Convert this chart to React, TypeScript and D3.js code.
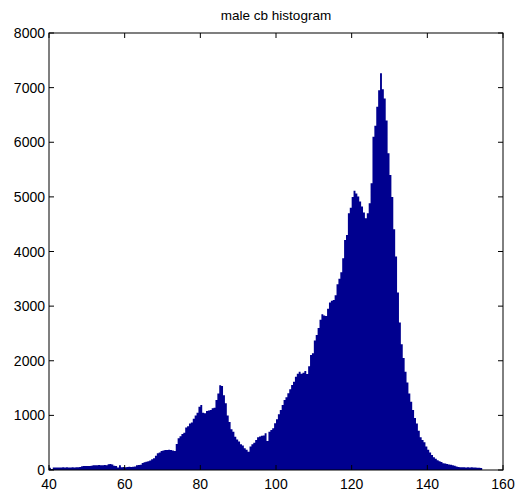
import React from "react";
import * as d3 from "d3";

const title = "male cb histogram";
const binStart = 40;
const binWidth = 0.5;
const counts: number[] = [
  40, 20, 45, 45, 48, 45, 48, 50, 48, 50,
  45, 48, 50, 48, 50, 52, 55, 70, 72, 75,
  72, 75, 78, 85, 88, 85, 90, 88, 85, 90,
  88, 105, 110, 100, 80, 75, 45, 85, 50, 55,
  52, 55, 58, 55, 60, 62, 85, 90, 95, 130,
  140, 150, 160, 175, 195, 215, 260, 305, 320, 350,
  355, 365, 368, 370, 365, 355, 350, 476, 580, 620,
  660, 680, 780, 800, 850, 870, 940, 1000, 1050, 1160,
  1190, 1050, 1040, 1080, 1090, 1100, 1130, 1140, 1280, 1400,
  1550, 1540, 1370, 1220, 1000, 880, 745, 700, 610, 560,
  520, 470, 450, 400, 370, 336, 430, 470, 500, 550,
  600, 615, 629, 630, 672, 530, 702, 730, 763, 855,
  930, 1020, 1100, 1190, 1282, 1330, 1404, 1480, 1557, 1617,
  1709, 1760, 1800, 1760, 1780, 1813, 1758, 1900, 2106, 2137,
  2369, 2473, 2600, 2750, 2851, 2830, 2820, 2950, 3065, 3100,
  3114, 3200, 3400, 3500, 3620, 3877, 4212, 4304, 4701, 4800,
  5000, 5110, 5060, 5005, 4914, 4823, 4713, 4610, 4700, 4884,
  5250, 6100, 6300, 6650, 6950, 7265, 6972, 6800, 6400, 5800,
  5400, 5000, 4408, 3907, 3250, 2700, 2300, 2050, 1800, 1600,
  1400, 1250, 1100, 950, 850, 720, 599, 549, 510, 430,
  370, 320, 275, 232, 205, 180, 159, 145, 125, 120,
  110, 100, 95, 85, 79, 65, 55, 52, 50, 50,
  48, 50, 48, 50, 45, 45, 42, 40, 35,
];
const xTicks = [40, 60, 80, 100, 120, 140, 160];
const yTicks = [0, 1000, 2000, 3000, 4000, 5000, 6000, 7000, 8000];

const W = 531;
const H = 492;
const left = 49;
const right = 503;
const top = 33;
const bottom = 470;
const tickLen = 5;
const font = "'Liberation Sans', Arial, sans-serif";

export default function App() {
  const x = d3.scaleLinear().domain([40, 160]).range([left, right]);
  const y = d3.scaleLinear().domain([0, 8000]).range([bottom, top]);
  const pts: [number, number][] = counts.map((c, i) => [binStart + i * binWidth, c]);
  pts.push([binStart + counts.length * binWidth, counts[counts.length - 1]]);
  const area = d3
    .area<[number, number]>()
    .x((d) => x(d[0]))
    .y0(y(0))
    .y1((d) => y(d[1]))
    .curve(d3.curveStepAfter);

  return (
    <svg
      width={W}
      height={H}
      style={{ position: "absolute", left: 0, top: 0, background: "#fff" }}
    >
      <rect x={0} y={0} width={W} height={H} fill="#fff" />
      <path d={area(pts) || ""} fill="#00008F" />
      <rect
        x={left}
        y={top}
        width={right - left}
        height={bottom - top}
        fill="none"
        stroke="#000"
        strokeWidth={1}
      />
      {xTicks.map((t) => (
        <g key={"x" + t}>
          <line x1={x(t)} x2={x(t)} y1={bottom} y2={bottom - tickLen} stroke="#000" />
          <line x1={x(t)} x2={x(t)} y1={top} y2={top + tickLen} stroke="#000" />
          <text
            x={x(t)}
            y={489}
            textAnchor="middle"
            fontFamily={font}
            fontSize={14}
            fill="#000"
          >
            {t}
          </text>
        </g>
      ))}
      {yTicks.map((t) => (
        <g key={"y" + t}>
          <line x1={left} x2={left + tickLen} y1={y(t)} y2={y(t)} stroke="#000" />
          <line x1={right} x2={right - tickLen} y1={y(t)} y2={y(t)} stroke="#000" />
          <text
            x={45}
            y={y(t) + 5}
            textAnchor="end"
            fontFamily={font}
            fontSize={14}
            fill="#000"
          >
            {t}
          </text>
        </g>
      ))}
      <text
        x={(left + right) / 2}
        y={19.5}
        textAnchor="middle"
        fontFamily={font}
        fontSize={13.5}
        fill="#000"
      >
        {title}
      </text>
    </svg>
  );
}
